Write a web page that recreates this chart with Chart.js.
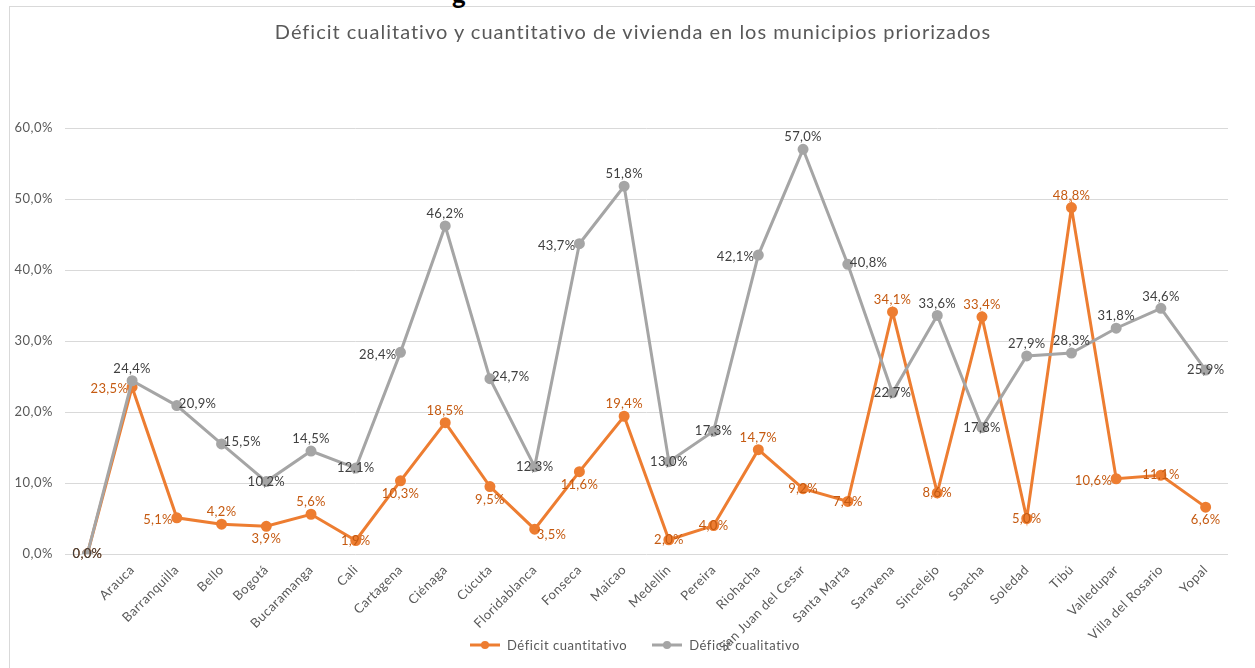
<!DOCTYPE html>
<html>
<head>
<meta charset="utf-8">
<script src="https://cdn.jsdelivr.net/npm/chart.js@4/dist/chart.umd.min.js"></script>
<style>
  html, body { margin: 0; padding: 0; background: #fff; }
  #wrap { position: relative; width: 1255px; height: 668px; overflow: hidden; font-family: Lato, "Open Sans", sans-serif; }
  #frame { position: absolute; left: 9px; top: 6px; width: 1260px; height: 680px; border: 1px solid #d9d9d9; box-sizing: border-box; }
  #cut { position: absolute; left: 452px; top: -22px; font: bold 26px Lato, sans-serif; color: #000; }
  #titulo { position: absolute; left: 0; width: 1266px; top: 19px; text-align: center; font-size: 20px; letter-spacing: 1px; color: #595959; white-space: nowrap; }
  #leyenda { position: absolute; left: 0; width: 1270px; top: 637px; display: flex; justify-content: center; align-items: center; font-size: 13px; letter-spacing: 0.55px; color: #595959; }
  #leyenda .item { display: flex; align-items: center; }
  #leyenda .item + .item { margin-left: 25px; }
  #leyenda canvas { position: static; margin-right: 7px; }
  canvas#chart { position: absolute; left: 0; top: 0; }
</style>
</head>
<body>
<div id="wrap">
  <div id="frame"></div>
  <div id="cut">g</div>
  <canvas id="chart" width="1255" height="668"></canvas>
  <div id="titulo">Déficit cualitativo y cuantitativo de vivienda en los municipios priorizados</div>
  <div id="leyenda"></div>
</div>
<script>
// categorias y valores (%)
const municipios = ['', 'Arauca', 'Barranquilla', 'Bello', 'Bogotá', 'Bucaramanga', 'Cali', 'Cartagena',
  'Ciénaga', 'Cúcuta', 'Floridablanca', 'Fonseca', 'Maicao', 'Medellín', 'Pereira', 'Riohacha',
  'San Juan del Cesar', 'Santa Marta', 'Saravena', 'Sincelejo', 'Soacha', 'Soledad', 'Tibú',
  'Valledupar', 'Villa del Rosario', 'Yopal'];
const deficitCuantitativo = [0.0, 23.5, 5.1, 4.2, 3.9, 5.6, 1.9, 10.3, 18.5, 9.5, 3.5, 11.6, 19.4,
  2.0, 4.0, 14.7, 9.2, 7.4, 34.1, 8.6, 33.4, 5.0, 48.8, 10.6, 11.1, 6.6];
const deficitCualitativo = [0.0, 24.4, 20.9, 15.5, 10.2, 14.5, 12.1, 28.4, 46.2, 24.7, 12.3, 43.7, 51.8,
  13.0, 17.3, 42.1, 57.0, 40.8, 22.7, 33.6, 17.8, 27.9, 28.3, 31.8, 34.6, 25.9];
const yTicks = [0, 10, 20, 30, 40, 50, 60];

// donde va cada etiqueta respecto al punto (c centro, t arriba, b abajo, l izq, r der)
const posCuanti = ['c','l','l','t','b','t','c','b','t','b','br','b','t','c','c','t','c','c','t','c','t','c','t','l','c','b'];
const posCuali  = ['c','t','r','r','c','t','c','l','t','r','c','l','t','c','c','l','t','r','c','t','c','t','t','t','t','c'];

const FONT = 'Lato, "Open Sans", sans-serif';
const NARANJA = '#ED7D31';
const GRIS = '#A5A5A5';

const fmt = v => v.toFixed(1).replace('.', ',') + '%';

// icono de leyenda: linea con marcador
function iconoLeyenda(color) {
  const c = document.createElement('canvas');
  c.width = 30; c.height = 12;
  const g = c.getContext('2d');
  g.strokeStyle = color; g.lineWidth = 3;
  g.beginPath(); g.moveTo(0, 6); g.lineTo(30, 6); g.stroke();
  g.fillStyle = color;
  g.beginPath(); g.arc(15, 6, 4, 0, Math.PI * 2); g.fill();
  return c;
}

const etiquetas = {
  id: 'etiquetas',
  beforeDraw(chart) { chart.ctx.letterSpacing = '0.5px'; },
  beforeDatasetsDraw(chart) { chart.ctx.letterSpacing = '0px'; },
  afterDatasetsDraw(chart) {
    const ctx = chart.ctx;
    ctx.save();
    ctx.font = '13px ' + FONT;
    ctx.letterSpacing = '0.3px';
    ctx.textBaseline = 'middle';
    [[0, posCuanti, '#C55A11'], [1, posCuali, '#404040']].forEach(([di, pos, color]) => {
      const meta = chart.getDatasetMeta(di);
      const vals = chart.data.datasets[di].data;
      meta.data.forEach((pt, i) => {
        let x = pt.x, y = pt.y, align = 'center';
        switch (pos[i]) {
          case 't': y -= 12; break;
          case 'b': y += 13; break;
          case 'l': x -= 4; y += 2; align = 'right'; break;
          case 'r': x += 2; y -= 2; align = 'left'; break;
          case 'br': x += 2; y += 6; align = 'left'; break;
        }
        ctx.textAlign = align;
        ctx.fillStyle = color;
        ctx.fillText(fmt(vals[i]), x, y);
      });
    });
    ctx.restore();
  }
};

const chart = new Chart(document.getElementById('chart'), {
  type: 'line',
  data: {
    labels: municipios,
    datasets: [{
      label: 'Déficit cuantitativo',
      data: deficitCuantitativo,
      borderColor: NARANJA,
      backgroundColor: NARANJA,
      borderWidth: 3,
      pointRadius: 4,
      pointHoverRadius: 4,
      order: 2
    }, {
      label: 'Déficit cualitativo',
      data: deficitCualitativo,
      borderColor: GRIS,
      backgroundColor: GRIS,
      borderWidth: 3,
      pointRadius: 4,
      pointHoverRadius: 4,
      order: 1
    }]
  },
  options: {
    responsive: false,
    animation: false,
    layout: { padding: { left: 10, right: 27, top: 128, bottom: 0 } },
    plugins: {
      legend: { display: false },
      tooltip: { enabled: false }
    },
    scales: {
      x: {
        offset: true,
        grid: { display: false, drawTicks: false },
        border: { display: false },
        afterFit: s => { s.height = 114; },
        ticks: {
          autoSkip: false,
          maxRotation: 45,
          minRotation: 45,
          padding: 8,
          color: '#595959',
          font: { family: FONT, size: 13 }
        }
      },
      y: {
        min: 0,
        max: 60,
        afterFit: s => { s.width = 55; },
        afterBuildTicks: s => { s.ticks = yTicks.map(v => ({ value: v })); },
        grid: { color: '#d9d9d9', drawTicks: false },
        border: { display: false },
        ticks: {
          padding: 12,
          color: '#595959',
          font: { family: FONT, size: 13 },
          callback: v => fmt(v)
        }
      }
    }
  },
  plugins: [etiquetas]
});

// leyenda en HTML a partir de los datasets
const leyenda = document.getElementById('leyenda');
chart.data.datasets.forEach(ds => {
  const item = document.createElement('div');
  item.className = 'item';
  item.appendChild(iconoLeyenda(ds.borderColor));
  const span = document.createElement('span');
  span.textContent = ds.label;
  item.appendChild(span);
  leyenda.appendChild(item);
});
</script>
</body>
</html>
